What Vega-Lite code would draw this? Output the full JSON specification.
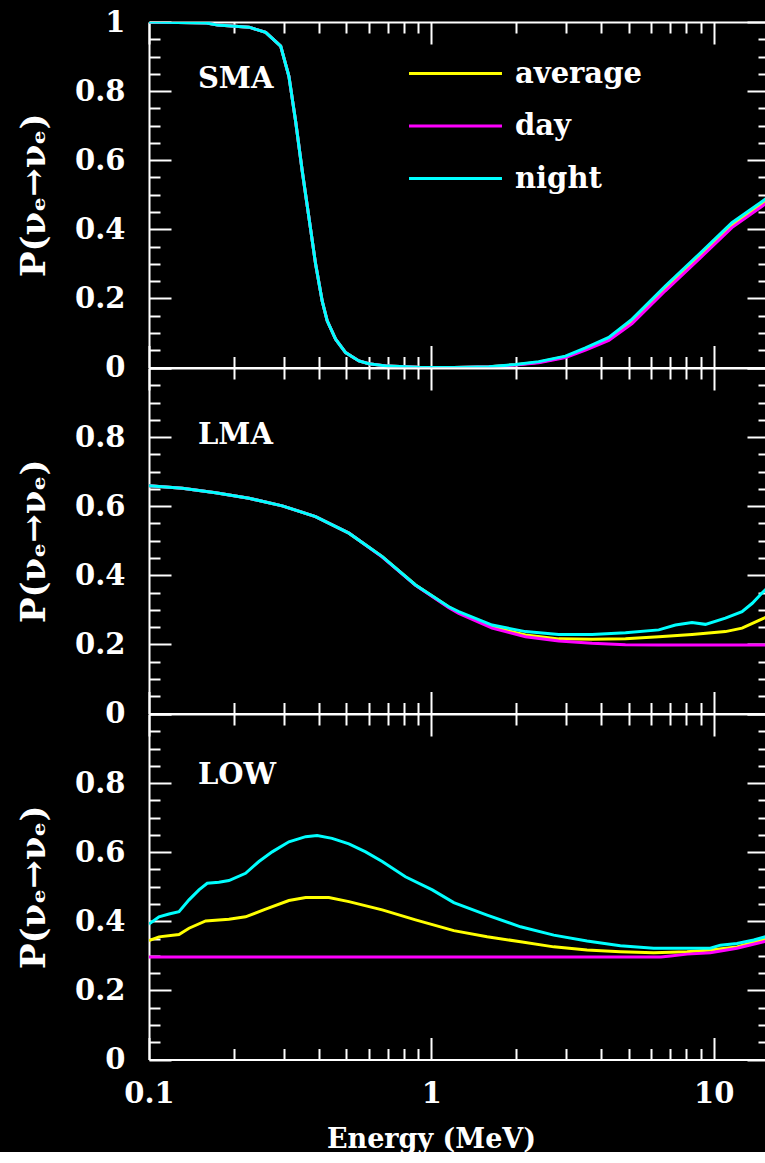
{
"$schema": "https://vega.github.io/schema/vega-lite/v6.json",
"background": "black",
"padding": {"left": 17, "top": 8, "right": 0, "bottom": 0},
"spacing": 0,
"bounds": "flush",
"config": {
  "view": {"stroke": null},
  "axis": {"domainColor": "white", "domainWidth": 2, "tickColor": "white", "tickWidth": 2, "grid": false,
    "labelColor": "white", "labelFont": "DejaVu Serif", "labelFontWeight": "bold", "labelFontSize": 29,
    "titleColor": "white", "titleFont": "DejaVu Serif", "titleFontWeight": "bold",
    "labelOverlap": false, "labelFlush": false},
  "text": {"font": "DejaVu Serif", "fontWeight": "bold", "fontSize": 29, "color": "white"}
},
"datasets": {
"curves": [
{"panel":"SMA","series":"average","E":0.1,"P":1.0},{"panel":"SMA","series":"average","E":0.16,"P":0.997},{"panel":"SMA","series":"average","E":0.175,"P":0.991},{"panel":"SMA","series":"average","E":0.226,"P":0.985},{"panel":"SMA","series":"average","E":0.259,"P":0.97},{"panel":"SMA","series":"average","E":0.2927,"P":0.93},{"panel":"SMA","series":"average","E":0.313,"P":0.843},{"panel":"SMA","series":"average","E":0.3306,"P":0.713},{"panel":"SMA","series":"average","E":0.349,"P":0.568},{"panel":"SMA","series":"average","E":0.3685,"P":0.434},{"panel":"SMA","series":"average","E":0.389,"P":0.30},{"panel":"SMA","series":"average","E":0.4107,"P":0.192},{"panel":"SMA","series":"average","E":0.4277,"P":0.135},{"panel":"SMA","series":"average","E":0.458,"P":0.082},{"panel":"SMA","series":"average","E":0.497,"P":0.043},{"panel":"SMA","series":"average","E":0.554,"P":0.019},{"panel":"SMA","series":"average","E":0.601,"P":0.011},{"panel":"SMA","series":"average","E":0.7,"P":0.004},{"panel":"SMA","series":"average","E":0.9,"P":0.001},{"panel":"SMA","series":"average","E":1.2,"P":0.0},{"panel":"SMA","series":"average","E":1.6,"P":0.002},{"panel":"SMA","series":"average","E":1.986,"P":0.008},{"panel":"SMA","series":"average","E":2.4,"P":0.015},{"panel":"SMA","series":"average","E":2.985,"P":0.031},{"panel":"SMA","series":"average","E":3.515,"P":0.053},{"panel":"SMA","series":"average","E":4.25,"P":0.082},{"panel":"SMA","series":"average","E":5.14,"P":0.133},{"panel":"SMA","series":"average","E":6.74,"P":0.228},{"panel":"SMA","series":"average","E":8.85,"P":0.319},{"panel":"SMA","series":"average","E":11.6,"P":0.411},{"panel":"SMA","series":"average","E":14.8,"P":0.473},{"panel":"SMA","series":"average","E":15.7,"P":0.488},
{"panel":"SMA","series":"day","E":0.1,"P":1.0},{"panel":"SMA","series":"day","E":0.16,"P":0.997},{"panel":"SMA","series":"day","E":0.175,"P":0.991},{"panel":"SMA","series":"day","E":0.226,"P":0.985},{"panel":"SMA","series":"day","E":0.259,"P":0.97},{"panel":"SMA","series":"day","E":0.2927,"P":0.93},{"panel":"SMA","series":"day","E":0.313,"P":0.843},{"panel":"SMA","series":"day","E":0.3306,"P":0.713},{"panel":"SMA","series":"day","E":0.349,"P":0.568},{"panel":"SMA","series":"day","E":0.3685,"P":0.434},{"panel":"SMA","series":"day","E":0.389,"P":0.30},{"panel":"SMA","series":"day","E":0.4107,"P":0.192},{"panel":"SMA","series":"day","E":0.4277,"P":0.135},{"panel":"SMA","series":"day","E":0.458,"P":0.082},{"panel":"SMA","series":"day","E":0.497,"P":0.043},{"panel":"SMA","series":"day","E":0.554,"P":0.019},{"panel":"SMA","series":"day","E":0.601,"P":0.011},{"panel":"SMA","series":"day","E":0.7,"P":0.004},{"panel":"SMA","series":"day","E":0.9,"P":0.001},{"panel":"SMA","series":"day","E":1.2,"P":0.0},{"panel":"SMA","series":"day","E":1.6,"P":0.002},{"panel":"SMA","series":"day","E":1.986,"P":0.007},{"panel":"SMA","series":"day","E":2.4,"P":0.014},{"panel":"SMA","series":"day","E":2.985,"P":0.029},{"panel":"SMA","series":"day","E":3.515,"P":0.05},{"panel":"SMA","series":"day","E":4.25,"P":0.078},{"panel":"SMA","series":"day","E":5.14,"P":0.127},{"panel":"SMA","series":"day","E":6.74,"P":0.222},{"panel":"SMA","series":"day","E":8.85,"P":0.313},{"panel":"SMA","series":"day","E":11.6,"P":0.405},{"panel":"SMA","series":"day","E":14.8,"P":0.466},{"panel":"SMA","series":"day","E":15.7,"P":0.481},
{"panel":"SMA","series":"night","E":0.1,"P":1.0},{"panel":"SMA","series":"night","E":0.16,"P":0.997},{"panel":"SMA","series":"night","E":0.175,"P":0.991},{"panel":"SMA","series":"night","E":0.226,"P":0.985},{"panel":"SMA","series":"night","E":0.259,"P":0.97},{"panel":"SMA","series":"night","E":0.2927,"P":0.93},{"panel":"SMA","series":"night","E":0.313,"P":0.843},{"panel":"SMA","series":"night","E":0.3306,"P":0.713},{"panel":"SMA","series":"night","E":0.349,"P":0.568},{"panel":"SMA","series":"night","E":0.3685,"P":0.434},{"panel":"SMA","series":"night","E":0.389,"P":0.30},{"panel":"SMA","series":"night","E":0.4107,"P":0.192},{"panel":"SMA","series":"night","E":0.4277,"P":0.135},{"panel":"SMA","series":"night","E":0.458,"P":0.082},{"panel":"SMA","series":"night","E":0.497,"P":0.043},{"panel":"SMA","series":"night","E":0.554,"P":0.019},{"panel":"SMA","series":"night","E":0.601,"P":0.011},{"panel":"SMA","series":"night","E":0.7,"P":0.004},{"panel":"SMA","series":"night","E":0.9,"P":0.001},{"panel":"SMA","series":"night","E":1.2,"P":0.0},{"panel":"SMA","series":"night","E":1.6,"P":0.002},{"panel":"SMA","series":"night","E":1.986,"P":0.009},{"panel":"SMA","series":"night","E":2.4,"P":0.017},{"panel":"SMA","series":"night","E":2.985,"P":0.033},{"panel":"SMA","series":"night","E":3.515,"P":0.057},{"panel":"SMA","series":"night","E":4.25,"P":0.087},{"panel":"SMA","series":"night","E":5.14,"P":0.14},{"panel":"SMA","series":"night","E":6.74,"P":0.236},{"panel":"SMA","series":"night","E":8.85,"P":0.327},{"panel":"SMA","series":"night","E":11.6,"P":0.419},{"panel":"SMA","series":"night","E":14.8,"P":0.48},{"panel":"SMA","series":"night","E":15.7,"P":0.495},
{"panel":"LMA","series":"average","E":0.1,"P":0.659},{"panel":"LMA","series":"average","E":0.1312,"P":0.652},{"panel":"LMA","series":"average","E":0.1722,"P":0.639},{"panel":"LMA","series":"average","E":0.226,"P":0.623},{"panel":"LMA","series":"average","E":0.2965,"P":0.601},{"panel":"LMA","series":"average","E":0.389,"P":0.57},{"panel":"LMA","series":"average","E":0.5105,"P":0.522},{"panel":"LMA","series":"average","E":0.67,"P":0.454},{"panel":"LMA","series":"average","E":0.879,"P":0.372},{"panel":"LMA","series":"average","E":1.153,"P":0.308},{"panel":"LMA","series":"average","E":1.25,"P":0.292},{"panel":"LMA","series":"average","E":1.642,"P":0.251},{"panel":"LMA","series":"average","E":2.155,"P":0.227},{"panel":"LMA","series":"average","E":2.827,"P":0.216},{"panel":"LMA","series":"average","E":3.71,"P":0.215},{"panel":"LMA","series":"average","E":4.87,"P":0.216},{"panel":"LMA","series":"average","E":6.39,"P":0.222},{"panel":"LMA","series":"average","E":8.38,"P":0.229},{"panel":"LMA","series":"average","E":11.0,"P":0.237},{"panel":"LMA","series":"average","E":12.6,"P":0.247},{"panel":"LMA","series":"average","E":14.8,"P":0.273},{"panel":"LMA","series":"average","E":15.7,"P":0.283},
{"panel":"LMA","series":"day","E":0.1,"P":0.659},{"panel":"LMA","series":"day","E":0.1312,"P":0.652},{"panel":"LMA","series":"day","E":0.1722,"P":0.639},{"panel":"LMA","series":"day","E":0.226,"P":0.623},{"panel":"LMA","series":"day","E":0.2965,"P":0.601},{"panel":"LMA","series":"day","E":0.389,"P":0.57},{"panel":"LMA","series":"day","E":0.5105,"P":0.522},{"panel":"LMA","series":"day","E":0.67,"P":0.453},{"panel":"LMA","series":"day","E":0.879,"P":0.371},{"panel":"LMA","series":"day","E":1.153,"P":0.306},{"panel":"LMA","series":"day","E":1.25,"P":0.29},{"panel":"LMA","series":"day","E":1.642,"P":0.247},{"panel":"LMA","series":"day","E":2.155,"P":0.222},{"panel":"LMA","series":"day","E":2.827,"P":0.21},{"panel":"LMA","series":"day","E":3.71,"P":0.203},{"panel":"LMA","series":"day","E":4.87,"P":0.199},{"panel":"LMA","series":"day","E":6.39,"P":0.198},{"panel":"LMA","series":"day","E":15.7,"P":0.198},
{"panel":"LMA","series":"night","E":0.1,"P":0.659},{"panel":"LMA","series":"night","E":0.1312,"P":0.652},{"panel":"LMA","series":"night","E":0.1722,"P":0.639},{"panel":"LMA","series":"night","E":0.226,"P":0.623},{"panel":"LMA","series":"night","E":0.2965,"P":0.601},{"panel":"LMA","series":"night","E":0.389,"P":0.57},{"panel":"LMA","series":"night","E":0.5105,"P":0.522},{"panel":"LMA","series":"night","E":0.67,"P":0.454},{"panel":"LMA","series":"night","E":0.879,"P":0.372},{"panel":"LMA","series":"night","E":1.153,"P":0.309},{"panel":"LMA","series":"night","E":1.25,"P":0.295},{"panel":"LMA","series":"night","E":1.642,"P":0.256},{"panel":"LMA","series":"night","E":2.155,"P":0.237},{"panel":"LMA","series":"night","E":2.827,"P":0.229},{"panel":"LMA","series":"night","E":3.71,"P":0.229},{"panel":"LMA","series":"night","E":4.87,"P":0.234},{"panel":"LMA","series":"night","E":6.39,"P":0.242},{"panel":"LMA","series":"night","E":7.32,"P":0.256},{"panel":"LMA","series":"night","E":8.38,"P":0.263},{"panel":"LMA","series":"night","E":9.35,"P":0.258},{"panel":"LMA","series":"night","E":11.0,"P":0.276},{"panel":"LMA","series":"night","E":12.6,"P":0.295},{"panel":"LMA","series":"night","E":13.7,"P":0.319},{"panel":"LMA","series":"night","E":14.8,"P":0.348},{"panel":"LMA","series":"night","E":15.7,"P":0.368},
{"panel":"LOW","series":"average","E":0.1,"P":0.344},{"panel":"LOW","series":"average","E":0.1085,"P":0.355},{"panel":"LOW","series":"average","E":0.1277,"P":0.362},{"panel":"LOW","series":"average","E":0.1386,"P":0.38},{"panel":"LOW","series":"average","E":0.1587,"P":0.401},{"panel":"LOW","series":"average","E":0.1919,"P":0.406},{"panel":"LOW","series":"average","E":0.2198,"P":0.413},{"panel":"LOW","series":"average","E":0.2588,"P":0.435},{"panel":"LOW","series":"average","E":0.313,"P":0.46},{"panel":"LOW","series":"average","E":0.3588,"P":0.469},{"panel":"LOW","series":"average","E":0.4335,"P":0.469},{"panel":"LOW","series":"average","E":0.5105,"P":0.457},{"panel":"LOW","series":"average","E":0.67,"P":0.433},{"panel":"LOW","series":"average","E":0.879,"P":0.404},{"panel":"LOW","series":"average","E":1.201,"P":0.373},{"panel":"LOW","series":"average","E":1.576,"P":0.355},{"panel":"LOW","series":"average","E":2.07,"P":0.341},{"panel":"LOW","series":"average","E":2.714,"P":0.326},{"panel":"LOW","series":"average","E":3.56,"P":0.317},{"panel":"LOW","series":"average","E":4.67,"P":0.312},{"panel":"LOW","series":"average","E":6.13,"P":0.309},{"panel":"LOW","series":"average","E":8.05,"P":0.312},{"panel":"LOW","series":"average","E":9.73,"P":0.317},{"panel":"LOW","series":"average","E":12.09,"P":0.326},{"panel":"LOW","series":"average","E":15.03,"P":0.348},{"panel":"LOW","series":"average","E":15.7,"P":0.352},
{"panel":"LOW","series":"day","E":0.1,"P":0.297},{"panel":"LOW","series":"day","E":6.5,"P":0.297},{"panel":"LOW","series":"day","E":7.03,"P":0.2996},{"panel":"LOW","series":"day","E":8.05,"P":0.305},{"panel":"LOW","series":"day","E":9.73,"P":0.309},{"panel":"LOW","series":"day","E":12.09,"P":0.322},{"panel":"LOW","series":"day","E":15.03,"P":0.341},{"panel":"LOW","series":"day","E":15.7,"P":0.345},
{"panel":"LOW","series":"night","E":0.1,"P":0.392},{"panel":"LOW","series":"night","E":0.1085,"P":0.413},{"panel":"LOW","series":"night","E":0.1177,"P":0.421},{"panel":"LOW","series":"night","E":0.1277,"P":0.428},{"panel":"LOW","series":"night","E":0.1386,"P":0.462},{"panel":"LOW","series":"night","E":0.1503,"P":0.491},{"panel":"LOW","series":"night","E":0.1608,"P":0.51},{"panel":"LOW","series":"night","E":0.1768,"P":0.513},{"panel":"LOW","series":"night","E":0.1919,"P":0.518},{"panel":"LOW","series":"night","E":0.2198,"P":0.539},{"panel":"LOW","series":"night","E":0.2451,"P":0.573},{"panel":"LOW","series":"night","E":0.2731,"P":0.601},{"panel":"LOW","series":"night","E":0.313,"P":0.63},{"panel":"LOW","series":"night","E":0.3588,"P":0.645},{"panel":"LOW","series":"night","E":0.394,"P":0.648},{"panel":"LOW","series":"night","E":0.445,"P":0.64},{"panel":"LOW","series":"night","E":0.5105,"P":0.624},{"panel":"LOW","series":"night","E":0.5851,"P":0.601},{"panel":"LOW","series":"night","E":0.67,"P":0.573},{"panel":"LOW","series":"night","E":0.8095,"P":0.529},{"panel":"LOW","series":"night","E":1.008,"P":0.491},{"panel":"LOW","series":"night","E":1.201,"P":0.454},{"panel":"LOW","series":"night","E":1.576,"P":0.418},{"panel":"LOW","series":"night","E":2.07,"P":0.384},{"panel":"LOW","series":"night","E":2.714,"P":0.36},{"panel":"LOW","series":"night","E":3.56,"P":0.343},{"panel":"LOW","series":"night","E":4.67,"P":0.329},{"panel":"LOW","series":"night","E":6.13,"P":0.322},{"panel":"LOW","series":"night","E":8.05,"P":0.322},{"panel":"LOW","series":"night","E":9.73,"P":0.322},{"panel":"LOW","series":"night","E":10.56,"P":0.331},{"panel":"LOW","series":"night","E":12.09,"P":0.336},{"panel":"LOW","series":"night","E":13.86,"P":0.346},{"panel":"LOW","series":"night","E":15.03,"P":0.354},{"panel":"LOW","series":"night","E":15.7,"P":0.358}
]
},
"vconcat": [
{
  "width": 620, "height": 345.5,
  "resolve": {"axis": {"x": "independent", "y": "independent"}},
  "layer": [
    {"data": {"name": "curves"}, "transform": [{"filter": "datum.panel === 'SMA'"}],
     "mark": {"type": "line", "strokeWidth": 3, "clip": true},
     "encoding": {
       "x": {"field": "E", "type": "quantitative", "scale": {"type": "log", "domain": [0.1, 15.7], "nice": false},
         "axis": {"orient": "bottom", "values": [0.1,0.2,0.3,0.4,0.5,0.6,0.7,0.8,0.9,1,2,3,4,5,6,7,8,9,10], "tickSize": {"condition": {"test": "indexof([0.1,1,10], datum.value) >= 0", "value": -22}, "value": -11}, "labels": false, "title": null}},
       "y": {"field": "P", "type": "quantitative", "scale": {"domain": [0, 1], "nice": false},
         "axis": {"orient": "left", "values": [0,0.05,0.1,0.15,0.2,0.25,0.3,0.35,0.4,0.45,0.5,0.55,0.6,0.65,0.7,0.75,0.8,0.85,0.9,0.95,1], "tickSize": {"condition": {"test": "round(datum.value*100) % 20 == 0", "value": -22}, "value": -11}, "labelExpr": "round(datum.value*100) % 20 == 0 ? format(datum.value, '~g') : ''", "labelPadding": 46, "title": "P(νₑ→νₑ)", "titleFontSize": 34, "titleAngle": 270, "titleX": -115, "titleY": 172.75, "titleAlign": "center", "titleBaseline": "middle"}},
       "color": {"field": "series", "type": "nominal", "scale": {"domain": ["average", "day", "night"], "range": ["#ffff00", "#ff00ff", "#00ffff"]},
         "legend": {"orient": "none", "legendX": 292, "legendY": 37, "title": null, "symbolType": "M-4,0H4", "symbolSize": 540, "symbolStrokeWidth": 3, "labelOffset": 45, "rowPadding": 22.5, "labelFontSize": 29, "labelFont": "DejaVu Serif", "labelFontWeight": "bold", "labelColor": "white", "padding": 0}}
     }},
    {"data": {"name": "curves"}, "transform": [{"filter": "datum.panel === 'SMA'"}],
     "mark": {"type": "line", "opacity": 0},
     "encoding": {
       "x": {"field": "E", "type": "quantitative", "axis": {"orient": "top", "values": [0.1,0.2,0.3,0.4,0.5,0.6,0.7,0.8,0.9,1,2,3,4,5,6,7,8,9,10], "tickSize": {"condition": {"test": "indexof([0.1,1,10], datum.value) >= 0", "value": -22}, "value": -11}, "labels": false, "title": null}},
       "y": {"field": "P", "type": "quantitative", "axis": {"orient": "right", "values": [0,0.05,0.1,0.15,0.2,0.25,0.3,0.35,0.4,0.45,0.5,0.55,0.6,0.65,0.7,0.75,0.8,0.85,0.9,0.95,1], "tickSize": {"condition": {"test": "round(datum.value*100) % 20 == 0", "value": -22}, "value": -11}, "labels": false, "title": null}},
       "detail": {"field": "series"}
     }},
    {"data": {"values": [{}]},
     "mark": {"type": "text", "text": "SMA", "align": "left", "baseline": "middle"},
     "encoding": {"x": {"datum": 0.149, "type": "quantitative", "axis": null}, "y": {"datum": 0.834, "type": "quantitative", "axis": null}}}
  ]
},
{
  "width": 620, "height": 345.5,
  "resolve": {"axis": {"x": "independent", "y": "independent"}},
  "layer": [
    {"data": {"name": "curves"}, "transform": [{"filter": "datum.panel === 'LMA'"}],
     "mark": {"type": "line", "strokeWidth": 3, "clip": true},
     "encoding": {
       "x": {"field": "E", "type": "quantitative", "scale": {"type": "log", "domain": [0.1, 15.7], "nice": false},
         "axis": {"orient": "bottom", "values": [0.1,0.2,0.3,0.4,0.5,0.6,0.7,0.8,0.9,1,2,3,4,5,6,7,8,9,10], "tickSize": {"condition": {"test": "indexof([0.1,1,10], datum.value) >= 0", "value": -22}, "value": -11}, "labels": false, "title": null}},
       "y": {"field": "P", "type": "quantitative", "scale": {"domain": [0, 1], "nice": false},
         "axis": {"orient": "left", "values": [0,0.05,0.1,0.15,0.2,0.25,0.3,0.35,0.4,0.45,0.5,0.55,0.6,0.65,0.7,0.75,0.8,0.85,0.9,0.95,1], "tickSize": {"condition": {"test": "round(datum.value*100) % 20 == 0", "value": -22}, "value": -11}, "labelExpr": "round(datum.value*100) % 20 == 0 && datum.value < 0.99 ? format(datum.value, '~g') : ''", "labelPadding": 46, "title": "P(νₑ→νₑ)", "titleFontSize": 34, "titleAngle": 270, "titleX": -115, "titleY": 172.75, "titleAlign": "center", "titleBaseline": "middle"}},
       "color": {"field": "series", "type": "nominal", "scale": {"domain": ["average", "day", "night"], "range": ["#ffff00", "#ff00ff", "#00ffff"]},
         "legend": {"orient": "none", "legendX": 292, "legendY": 37, "title": null, "symbolType": "M-4,0H4", "symbolSize": 540, "symbolStrokeWidth": 3, "labelOffset": 45, "rowPadding": 22.5, "labelFontSize": 29, "labelFont": "DejaVu Serif", "labelFontWeight": "bold", "labelColor": "white", "padding": 0}}
     }},
    {"data": {"name": "curves"}, "transform": [{"filter": "datum.panel === 'LMA'"}],
     "mark": {"type": "line", "opacity": 0},
     "encoding": {
       "x": {"field": "E", "type": "quantitative", "axis": {"orient": "top", "values": [0.1,0.2,0.3,0.4,0.5,0.6,0.7,0.8,0.9,1,2,3,4,5,6,7,8,9,10], "tickSize": {"condition": {"test": "indexof([0.1,1,10], datum.value) >= 0", "value": -22}, "value": -11}, "labels": false, "title": null}},
       "y": {"field": "P", "type": "quantitative", "axis": {"orient": "right", "values": [0,0.05,0.1,0.15,0.2,0.25,0.3,0.35,0.4,0.45,0.5,0.55,0.6,0.65,0.7,0.75,0.8,0.85,0.9,0.95,1], "tickSize": {"condition": {"test": "round(datum.value*100) % 20 == 0", "value": -22}, "value": -11}, "labels": false, "title": null}},
       "detail": {"field": "series"}
     }},
    {"data": {"values": [{}]},
     "mark": {"type": "text", "text": "LMA", "align": "left", "baseline": "middle"},
     "encoding": {"x": {"datum": 0.149, "type": "quantitative", "axis": null}, "y": {"datum": 0.805, "type": "quantitative", "axis": null}}}
  ]
},
{
  "width": 620, "height": 345.5,
  "resolve": {"axis": {"x": "independent", "y": "independent"}},
  "layer": [
    {"data": {"name": "curves"}, "transform": [{"filter": "datum.panel === 'LOW'"}],
     "mark": {"type": "line", "strokeWidth": 3, "clip": true},
     "encoding": {
       "x": {"field": "E", "type": "quantitative", "scale": {"type": "log", "domain": [0.1, 15.7], "nice": false},
         "axis": {"orient": "bottom", "values": [0.1,0.2,0.3,0.4,0.5,0.6,0.7,0.8,0.9,1,2,3,4,5,6,7,8,9,10], "tickSize": {"condition": {"test": "indexof([0.1,1,10], datum.value) >= 0", "value": -22}, "value": -11}, "labelExpr": "indexof([0.1,1,10], datum.value) >= 0 ? format(datum.value, '~g') : ''", "labelPadding": 42, "title": "Energy (MeV)", "titleFontSize": 27, "titleX": 282, "titleY": 79.5, "titleAlign": "center", "titleBaseline": "middle"}},
       "y": {"field": "P", "type": "quantitative", "scale": {"domain": [0, 1], "nice": false},
         "axis": {"orient": "left", "values": [0,0.05,0.1,0.15,0.2,0.25,0.3,0.35,0.4,0.45,0.5,0.55,0.6,0.65,0.7,0.75,0.8,0.85,0.9,0.95,1], "tickSize": {"condition": {"test": "round(datum.value*100) % 20 == 0", "value": -22}, "value": -11}, "labelExpr": "round(datum.value*100) % 20 == 0 && datum.value < 0.99 ? format(datum.value, '~g') : ''", "labelPadding": 46, "title": "P(νₑ→νₑ)", "titleFontSize": 34, "titleAngle": 270, "titleX": -115, "titleY": 172.75, "titleAlign": "center", "titleBaseline": "middle"}},
       "color": {"field": "series", "type": "nominal", "scale": {"domain": ["average", "day", "night"], "range": ["#ffff00", "#ff00ff", "#00ffff"]},
         "legend": {"orient": "none", "legendX": 292, "legendY": 37, "title": null, "symbolType": "M-4,0H4", "symbolSize": 540, "symbolStrokeWidth": 3, "labelOffset": 45, "rowPadding": 22.5, "labelFontSize": 29, "labelFont": "DejaVu Serif", "labelFontWeight": "bold", "labelColor": "white", "padding": 0}}
     }},
    {"data": {"name": "curves"}, "transform": [{"filter": "datum.panel === 'LOW'"}],
     "mark": {"type": "line", "opacity": 0},
     "encoding": {
       "x": {"field": "E", "type": "quantitative", "axis": {"orient": "top", "values": [0.1,0.2,0.3,0.4,0.5,0.6,0.7,0.8,0.9,1,2,3,4,5,6,7,8,9,10], "tickSize": {"condition": {"test": "indexof([0.1,1,10], datum.value) >= 0", "value": -22}, "value": -11}, "labels": false, "title": null}},
       "y": {"field": "P", "type": "quantitative", "axis": {"orient": "right", "values": [0,0.05,0.1,0.15,0.2,0.25,0.3,0.35,0.4,0.45,0.5,0.55,0.6,0.65,0.7,0.75,0.8,0.85,0.9,0.95,1], "tickSize": {"condition": {"test": "round(datum.value*100) % 20 == 0", "value": -22}, "value": -11}, "labels": false, "title": null}},
       "detail": {"field": "series"}
     }},
    {"data": {"values": [{}]},
     "mark": {"type": "text", "text": "LOW", "align": "left", "baseline": "middle"},
     "encoding": {"x": {"datum": 0.149, "type": "quantitative", "axis": null}, "y": {"datum": 0.823, "type": "quantitative", "axis": null}}}
  ]
}
]
}
